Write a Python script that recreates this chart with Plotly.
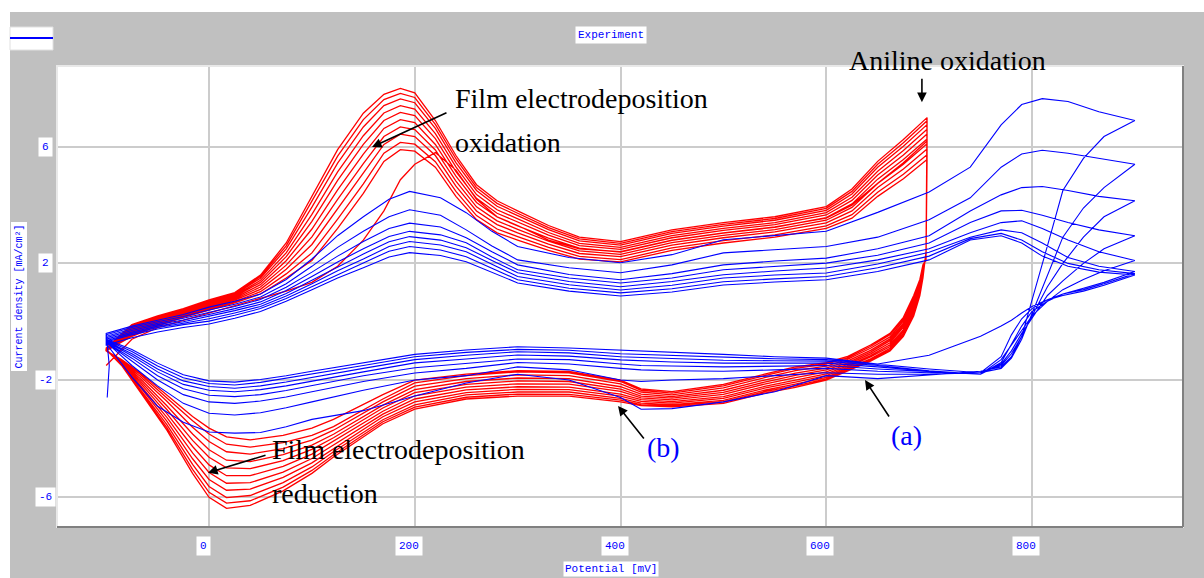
import plotly.graph_objects as go

# ---- red: aniline electropolymerisation cycles (first cycle + 10 film cycles)
red_up_mv = [-100, -75, -50, -25, 0, 25, 50, 75, 100, 125, 150, 170, 186, 200, 220,
             240, 260, 280, 300, 330, 360, 400, 450, 500, 550, 600, 625, 650, 675, 698]
red_up_j = [
    [-1.5, -0.6, -0.2, 0.05, 0.3, 0.55, 0.8, 1.05, 1.35, 1.9, 2.8, 3.8, 4.87, 5.4, 5.8, 5.2, 4.2, 3.6, 3.3, 2.8, 2.5, 2.4, 2.8, 3.05, 3.25, 3.55, 4.0, 4.75, 5.45, 6.2],
    [-1.0, -0.5, -0.15, 0.15, 0.4, 0.65, 0.95, 1.5, 2.1, 3.2, 4.4, 5.5, 5.9, 5.85, 5.3, 4.3, 3.5, 3.05, 2.8, 2.45, 2.15, 2.05, 2.45, 2.7, 2.9, 3.2, 3.55, 4.3, 4.9, 5.56],
    [-0.99, -0.45, -0.11, 0.19, 0.44, 0.69, 1.03, 1.64, 2.36, 3.52, 4.73, 5.78, 6.15, 6.09, 5.49, 4.47, 3.64, 3.18, 2.92, 2.55, 2.24, 2.13, 2.53, 2.78, 2.98, 3.29, 3.67, 4.44, 5.06, 5.73],
    [-0.98, -0.4, -0.06, 0.23, 0.49, 0.74, 1.11, 1.8, 2.65, 3.88, 5.09, 6.08, 6.43, 6.35, 5.7, 4.65, 3.8, 3.33, 3.05, 2.66, 2.34, 2.23, 2.63, 2.88, 3.08, 3.39, 3.8, 4.6, 5.24, 5.92],
    [-0.96, -0.35, -0.02, 0.26, 0.53, 0.78, 1.19, 1.94, 2.91, 4.2, 5.42, 6.35, 6.68, 6.59, 5.89, 4.82, 3.94, 3.46, 3.17, 2.76, 2.43, 2.31, 2.71, 2.96, 3.16, 3.48, 3.92, 4.74, 5.4, 6.1],
    [-0.95, -0.3, 0.02, 0.3, 0.57, 0.82, 1.27, 2.09, 3.18, 4.52, 5.75, 6.63, 6.93, 6.83, 6.08, 4.99, 4.09, 3.59, 3.29, 2.87, 2.52, 2.39, 2.79, 3.04, 3.24, 3.57, 4.04, 4.89, 5.56, 6.27],
    [-0.94, -0.26, 0.06, 0.33, 0.61, 0.86, 1.35, 2.23, 3.44, 4.85, 6.08, 6.9, 7.18, 7.07, 6.28, 5.15, 4.23, 3.72, 3.41, 2.97, 2.61, 2.48, 2.88, 3.13, 3.33, 3.66, 4.16, 5.03, 5.72, 6.44],
    [-0.93, -0.21, 0.1, 0.37, 0.65, 0.9, 1.42, 2.36, 3.68, 5.14, 6.38, 7.16, 7.41, 7.29, 6.45, 5.31, 4.36, 3.84, 3.52, 3.06, 2.69, 2.55, 2.95, 3.2, 3.4, 3.74, 4.27, 5.16, 5.87, 6.6],
    [-0.92, -0.17, 0.14, 0.4, 0.69, 0.94, 1.49, 2.5, 3.93, 5.44, 6.68, 7.41, 7.64, 7.51, 6.63, 5.46, 4.5, 3.96, 3.63, 3.16, 2.77, 2.63, 3.03, 3.28, 3.48, 3.82, 4.38, 5.3, 6.02, 6.76],
    [-0.91, -0.13, 0.17, 0.43, 0.72, 0.97, 1.55, 2.6, 4.12, 5.68, 6.93, 7.62, 7.83, 7.69, 6.77, 5.59, 4.6, 4.06, 3.72, 3.23, 2.84, 2.69, 3.09, 3.34, 3.54, 3.89, 4.47, 5.4, 6.14, 6.89],
    [-0.9, -0.1, 0.2, 0.45, 0.75, 1.0, 1.6, 2.7, 4.3, 5.9, 7.15, 7.8, 8.0, 7.85, 6.9, 5.7, 4.7, 4.15, 3.8, 3.3, 2.9, 2.75, 3.15, 3.4, 3.6, 3.95, 4.55, 5.5, 6.25, 7.0],
]
red_down_mv = [697, 694, 691, 685, 675, 662, 643, 620, 600, 570, 540, 500, 450, 420, 400, 350,
               300, 250, 200, 169, 121, 100, 72, 40, 17, 0, -16, -41, -67, -85, -100]
red_down_j = [
    [2.1, 1.95, 1.45, 0.9, 0.15, -0.4, -0.8, -1.2, -1.4, -1.55, -1.8, -2.15, -2.4, -2.3, -2.0, -1.7, -1.68, -1.8, -2.0, -2.5, -3.35, -3.65, -3.9, -4.05, -3.95, -3.65, -3.25, -2.5, -1.75, -1.3, -1.0],
    [2.2, 1.9, 1.4, 0.85, 0.1, -0.45, -0.85, -1.25, -1.45, -1.6, -1.85, -2.2, -2.45, -2.35, -2.05, -1.75, -1.72, -1.85, -2.1, -2.65, -3.6, -3.9, -4.15, -4.3, -4.2, -3.85, -3.4, -2.6, -1.8, -1.35, -1.0],
    [2.22, 1.85, 1.34, 0.77, 0.03, -0.52, -0.91, -1.3, -1.52, -1.68, -1.92, -2.27, -2.51, -2.41, -2.13, -1.85, -1.82, -1.95, -2.21, -2.75, -3.72, -4.06, -4.35, -4.54, -4.46, -4.11, -3.62, -2.73, -1.87, -1.37, -1.0],
    [2.25, 1.8, 1.28, 0.69, -0.05, -0.59, -0.98, -1.36, -1.59, -1.76, -2.0, -2.35, -2.57, -2.48, -2.23, -1.95, -1.93, -2.05, -2.33, -2.86, -3.86, -4.23, -4.56, -4.8, -4.75, -4.39, -3.85, -2.88, -1.95, -1.39, -0.99],
    [2.27, 1.75, 1.22, 0.61, -0.12, -0.65, -1.04, -1.42, -1.65, -1.84, -2.07, -2.42, -2.62, -2.55, -2.31, -2.05, -2.03, -2.15, -2.43, -2.96, -3.98, -4.38, -4.76, -5.04, -5.01, -4.65, -4.07, -3.01, -2.02, -1.41, -0.99],
    [2.3, 1.7, 1.16, 0.53, -0.19, -0.72, -1.1, -1.47, -1.72, -1.92, -2.14, -2.49, -2.68, -2.61, -2.39, -2.14, -2.13, -2.24, -2.54, -3.07, -4.11, -4.54, -4.96, -5.28, -5.28, -4.91, -4.28, -3.15, -2.09, -1.42, -0.98],
    [2.32, 1.66, 1.1, 0.45, -0.27, -0.79, -1.16, -1.52, -1.79, -2.0, -2.22, -2.57, -2.74, -2.67, -2.48, -2.24, -2.23, -2.34, -2.65, -3.17, -4.23, -4.69, -5.16, -5.52, -5.54, -5.17, -4.5, -3.28, -2.17, -1.44, -0.98],
    [2.34, 1.61, 1.04, 0.38, -0.33, -0.85, -1.21, -1.57, -1.85, -2.07, -2.28, -2.63, -2.79, -2.73, -2.55, -2.33, -2.32, -2.43, -2.75, -3.26, -4.35, -4.84, -5.34, -5.74, -5.78, -5.41, -4.7, -3.41, -2.23, -1.46, -0.97],
    [2.37, 1.57, 0.99, 0.31, -0.4, -0.91, -1.27, -1.62, -1.91, -2.14, -2.35, -2.7, -2.84, -2.79, -2.63, -2.41, -2.41, -2.51, -2.85, -3.36, -4.46, -4.98, -5.52, -5.96, -6.03, -5.65, -4.89, -3.53, -2.3, -1.47, -0.97],
    [2.38, 1.53, 0.94, 0.25, -0.45, -0.96, -1.31, -1.66, -1.96, -2.2, -2.4, -2.75, -2.88, -2.84, -2.69, -2.49, -2.48, -2.59, -2.93, -3.43, -4.56, -5.1, -5.67, -6.14, -6.22, -5.85, -5.06, -3.63, -2.35, -1.49, -0.96],
    [2.4, 1.5, 0.9, 0.2, -0.5, -1.0, -1.35, -1.7, -2.0, -2.25, -2.45, -2.8, -2.92, -2.88, -2.75, -2.55, -2.55, -2.65, -3.0, -3.5, -4.64, -5.2, -5.8, -6.3, -6.4, -6.02, -5.2, -3.72, -2.4, -1.5, -0.96],
]

# ---- blue: film cycled in monomer-free solution, 8 cycles (one column per cycle)
blue_start_mv = [-99, -97]
blue_start_j = [-2.6, -1.5]
blue_up_mv = [-100, -75, -50, -25, 0, 25, 50, 75, 100, 125, 150, 175, 195, 225, 250, 275,
              300, 350, 400, 450, 500, 550, 600, 650, 700, 740, 770, 790, 810, 835, 865, 900]
blue_up_rows = [
    [-0.4, -0.45, -0.5, -0.55, -0.6, -0.65, -0.7, -0.8],
    [-0.15, -0.2, -0.25, -0.3, -0.35, -0.4, -0.45, -0.55],
    [0.05, 0.0, -0.05, -0.1, -0.15, -0.2, -0.25, -0.35],
    [0.25, 0.18, 0.12, 0.06, 0.0, -0.05, -0.1, -0.2],
    [0.5, 0.4, 0.32, 0.25, 0.18, 0.1, 0.02, -0.08],
    [0.7, 0.6, 0.52, 0.45, 0.38, 0.3, 0.22, 0.12],
    [0.95, 0.85, 0.76, 0.68, 0.6, 0.52, 0.45, 0.35],
    [1.45, 1.3, 1.18, 1.07, 0.97, 0.88, 0.8, 0.7],
    [2.15, 1.9, 1.7, 1.55, 1.42, 1.3, 1.2, 1.1],
    [2.95, 2.55, 2.25, 2.05, 1.88, 1.75, 1.62, 1.5],
    [3.6, 3.1, 2.75, 2.5, 2.32, 2.15, 2.0, 1.85],
    [4.2, 3.6, 3.2, 2.92, 2.74, 2.58, 2.42, 2.22],
    [4.47, 3.84, 3.38, 3.1, 2.92, 2.75, 2.58, 2.37],
    [4.25, 3.65, 3.25, 2.98, 2.8, 2.63, 2.46, 2.27],
    [3.74, 3.15, 2.88, 2.71, 2.54, 2.4, 2.23, 2.06],
    [3.1, 2.6, 2.4, 2.22, 2.1, 1.97, 1.83, 1.7],
    [2.58, 2.12, 1.95, 1.78, 1.68, 1.55, 1.44, 1.33],
    [2.2, 1.85, 1.62, 1.5, 1.38, 1.27, 1.15, 1.05],
    [2.02, 1.68, 1.44, 1.33, 1.2, 1.09, 0.99, 0.88],
    [2.3, 1.95, 1.65, 1.5, 1.38, 1.25, 1.13, 1.02],
    [2.81, 2.36, 1.95, 1.78, 1.61, 1.5, 1.37, 1.26],
    [2.95, 2.47, 2.08, 1.9, 1.74, 1.6, 1.47, 1.36],
    [3.1, 2.58, 2.18, 2.01, 1.84, 1.67, 1.55, 1.44],
    [3.75, 2.9, 2.5, 2.28, 2.12, 1.98, 1.85, 1.72],
    [4.45, 3.5, 2.95, 2.7, 2.5, 2.38, 2.25, 2.12],
    [5.3, 4.25, 3.8, 3.4, 3.05, 2.9, 2.85, 2.8],
    [6.75, 5.3, 4.35, 3.8, 3.4, 3.15, 3.03, 2.95],
    [7.45, 5.75, 4.6, 3.82, 3.46, 3.05, 2.8, 2.7],
    [7.65, 5.88, 4.64, 3.65, 3.2, 2.7, 2.4, 2.25],
    [7.55, 5.78, 4.5, 3.4, 2.8, 2.2, 2.0, 1.9],
    [7.2, 5.6, 4.3, 3.15, 2.4, 1.9, 1.78, 1.7],
    [6.9, 5.4, 4.15, 2.95, 2.1, 1.72, 1.65, 1.6],
]
blue_down_mv = [900, 870, 850, 830, 815, 800, 790, 780, 770, 750, 700, 650, 600, 550, 500, 450,
                420, 400, 350, 300, 250, 200, 150, 100, 75, 50, 25, 0, -25, -50, -75, -100]
blue_down_rows = [
    [6.9, 5.4, 4.15, 2.95, 2.1, 1.72, 1.65, 1.6],
    [6.35, 4.6, 3.6, 2.5, 1.75, 1.35, 1.3, 1.25],
    [5.6, 3.9, 2.9, 2.0, 1.45, 1.15, 1.1, 1.05],
    [4.5, 2.9, 2.0, 1.4, 1.1, 0.95, 0.95, 0.9],
    [2.6, 1.6, 1.2, 0.9, 0.7, 0.7, 0.75, 0.75],
    [0.7, 0.3, 0.2, 0.1, 0.2, 0.35, 0.45, 0.52],
    [-0.5, -0.6, -0.5, -0.4, -0.3, -0.15, 0.1, 0.3],
    [-1.2, -1.25, -1.1, -1.0, -0.8, -0.8, -0.45, 0.05],
    [-1.55, -1.6, -1.5, -1.45, -1.3, -1.4, -1.2, -0.15],
    [-1.7, -1.75, -1.75, -1.8, -1.8, -1.8, -1.75, -0.5],
    [-1.82, -1.8, -1.75, -1.72, -1.7, -1.68, -1.62, -1.15],
    [-1.95, -1.8, -1.7, -1.62, -1.55, -1.5, -1.47, -1.45],
    [-1.85, -1.75, -1.6, -1.5, -1.42, -1.35, -1.3, -1.25],
    [-2.4, -1.85, -1.65, -1.52, -1.42, -1.34, -1.27, -1.2],
    [-2.75, -1.95, -1.7, -1.55, -1.42, -1.32, -1.22, -1.12],
    [-2.98, -2.0, -1.68, -1.52, -1.38, -1.26, -1.16, -1.05],
    [-3.0, -2.05, -1.65, -1.5, -1.35, -1.23, -1.13, -1.0],
    [-2.6, -2.0, -1.6, -1.45, -1.31, -1.2, -1.1, -0.97],
    [-2.0, -1.65, -1.45, -1.3, -1.18, -1.07, -0.98, -0.9],
    [-1.8, -1.55, -1.4, -1.28, -1.14, -1.03, -0.95, -0.86],
    [-2.1, -1.85, -1.6, -1.42, -1.28, -1.15, -1.05, -0.97],
    [-2.55, -2.0, -1.76, -1.58, -1.41, -1.3, -1.2, -1.12],
    [-3.05, -2.35, -2.05, -1.85, -1.72, -1.6, -1.5, -1.4],
    [-3.35, -2.75, -2.4, -2.2, -2.05, -1.92, -1.8, -1.7],
    [-3.6, -2.95, -2.58, -2.36, -2.2, -2.07, -1.95, -1.85],
    [-3.8, -3.12, -2.72, -2.5, -2.33, -2.2, -2.08, -1.98],
    [-3.82, -3.2, -2.8, -2.57, -2.4, -2.28, -2.17, -2.07],
    [-3.78, -3.14, -2.75, -2.52, -2.35, -2.22, -2.12, -2.03],
    [-3.45, -2.8, -2.5, -2.3, -2.15, -2.03, -1.92, -1.82],
    [-2.9, -2.2, -2.0, -1.85, -1.72, -1.62, -1.52, -1.42],
    [-1.9, -1.5, -1.35, -1.25, -1.17, -1.1, -1.02, -0.95],
    [-0.75, -0.7, -0.7, -0.7, -0.68, -0.66, -0.63, -0.6],
]

x_ticks = [0, 200, 400, 600, 800]
y_ticks = [-6, -2, 2, 6]


def join_cycles(up_mv, up_j, down_mv, down_j, xs=None, ys=None):
    xs = list(xs or [])
    ys = list(ys or [])
    for a, b in zip(up_j, down_j):
        xs += up_mv + down_mv
        ys += list(a) + list(b)
    return xs, ys


red_x, red_y = join_cycles(red_up_mv, red_up_j, red_down_mv, red_down_j)
blue_x, blue_y = join_cycles(blue_up_mv, list(zip(*blue_up_rows)),
                             blue_down_mv, list(zip(*blue_down_rows)),
                             blue_start_mv, blue_start_j)

fig = go.Figure()
fig.add_trace(go.Scatter(x=red_x, y=red_y, mode="lines", line=dict(color="#FF0000", width=1.3)))
fig.add_trace(go.Scatter(x=blue_x, y=blue_y, mode="lines", line=dict(color="#0000FF", width=1.1)))

# plot area: x 57..1183 px, y 66..527 px
L, R, T, B = 57, 1183, 66, 527
def px(x):
    return (x - L) / (R - L)
def py(y):
    return (B - y) / (B - T)

lab_font = dict(family="Liberation Mono", size=11, color="#0000FF")
mid = dict(xanchor="center", yanchor="middle", showarrow=False)

ann = []
for v in x_ticks:
    ann.append(dict(x=v, y=py(546), xref="x", yref="paper", text=str(v), bgcolor="white",
                    font=lab_font, xshift=-6, borderpad=3, **mid))
for v in y_ticks:
    ann.append(dict(x=px(45), y=v, xref="paper", yref="y", text=str(v), bgcolor="white",
                    font=lab_font, borderpad=3, **mid))
ann.append(dict(x=px(19), y=0.5, xref="paper", yref="paper", text="Current density [mA/cm²]",
                textangle=-90, bgcolor="white",
                font=dict(family="Liberation Mono", size=10, color="#0000FF"), borderpad=2, **mid))
ann.append(dict(x=px(611), y=py(35), xref="paper", yref="paper", text="Experiment",
                bgcolor="white", font=lab_font, borderpad=2, **mid))
ann.append(dict(x=px(611), y=py(569), xref="paper", yref="paper", text="Potential [mV]",
                bgcolor="white", font=lab_font, borderpad=1, **mid))

# labels written on the chart (left edge in px, vertical centre in px)
texts = [
    ("Film electrodeposition", 453, 98, "black"),
    ("oxidation", 453, 142, "black"),
    ("Aniline oxidation", 847, 61, "black"),
    ("Film electrodeposition", 270, 449, "black"),
    ("reduction", 270, 493, "black"),
    ("(a)", 889, 435, "#0000FF"),
    ("(b)", 645, 447, "#0000FF"),
]
for t, x, y, c in texts:
    ann.append(dict(x=px(x), y=py(y), xref="paper", yref="paper", text=t, showarrow=False,
                    xanchor="left", yanchor="middle",
                    font=dict(family="Liberation Serif", size=28, color=c)))

arrows = [(158.4, 5.99, 76, -35), (693, 7.53, 0, -25), (-1, -5.18, 59, -18),
          (637.7, -2.0, 25, 38), (397.6, -2.89, 27, 34)]
for x, y, dx, dy in arrows:
    ann.append(dict(x=x, y=y, ax=dx, ay=dy, text="", showarrow=True, arrowhead=2,
                    arrowsize=1.2, arrowwidth=1.6, arrowcolor="black"))

shapes = [
    # white strips at the page edge
    dict(type="rect", xref="paper", yref="paper", x0=px(0), x1=px(1204), y0=py(12), y1=py(0),
         fillcolor="white", line=dict(width=0)),
    dict(type="rect", xref="paper", yref="paper", x0=px(0), x1=px(10), y0=py(578), y1=py(0),
         fillcolor="white", line=dict(width=0)),
    # legend swatch
    dict(type="rect", xref="paper", yref="paper", x0=px(10), x1=px(53), y0=py(50), y1=py(27),
         fillcolor="white", line=dict(color="#E0E0E0", width=1)),
    dict(type="line", xref="paper", yref="paper", x0=px(10), x1=px(53), y0=py(38), y1=py(38),
         line=dict(color="#0000FF", width=2)),
    # bevelled frame of the plot area
    dict(type="rect", xref="paper", yref="paper", x0=0, x1=1, y0=0, y1=1,
         line=dict(color="#E8E8E8", width=2)),
    dict(type="line", xref="paper", yref="paper", x0=0, x1=1, y0=0, y1=0,
         line=dict(color="#808080", width=2)),
    dict(type="line", xref="paper", yref="paper", x0=1, x1=1, y0=0, y1=1,
         line=dict(color="#808080", width=2)),
]

fig.update_layout(
    width=1204, height=578,
    margin=dict(l=L, r=1204 - R, t=T, b=578 - B),
    paper_bgcolor="#C0C0C0", plot_bgcolor="white",
    showlegend=False,
    xaxis=dict(range=[-147.8, 946.8], tickvals=x_ticks, showticklabels=False, ticks="",
               showgrid=True, gridcolor="#CCCCCC", gridwidth=2, zeroline=False),
    yaxis=dict(range=[-7.04, 8.77], tickvals=y_ticks, showticklabels=False, ticks="",
               showgrid=True, gridcolor="#CCCCCC", gridwidth=2, zeroline=False),
    annotations=ann,
    shapes=shapes,
)

fig.write_html("out.html", config={"displayModeBar": False},
               post_script="document.body.style.margin='0';")
